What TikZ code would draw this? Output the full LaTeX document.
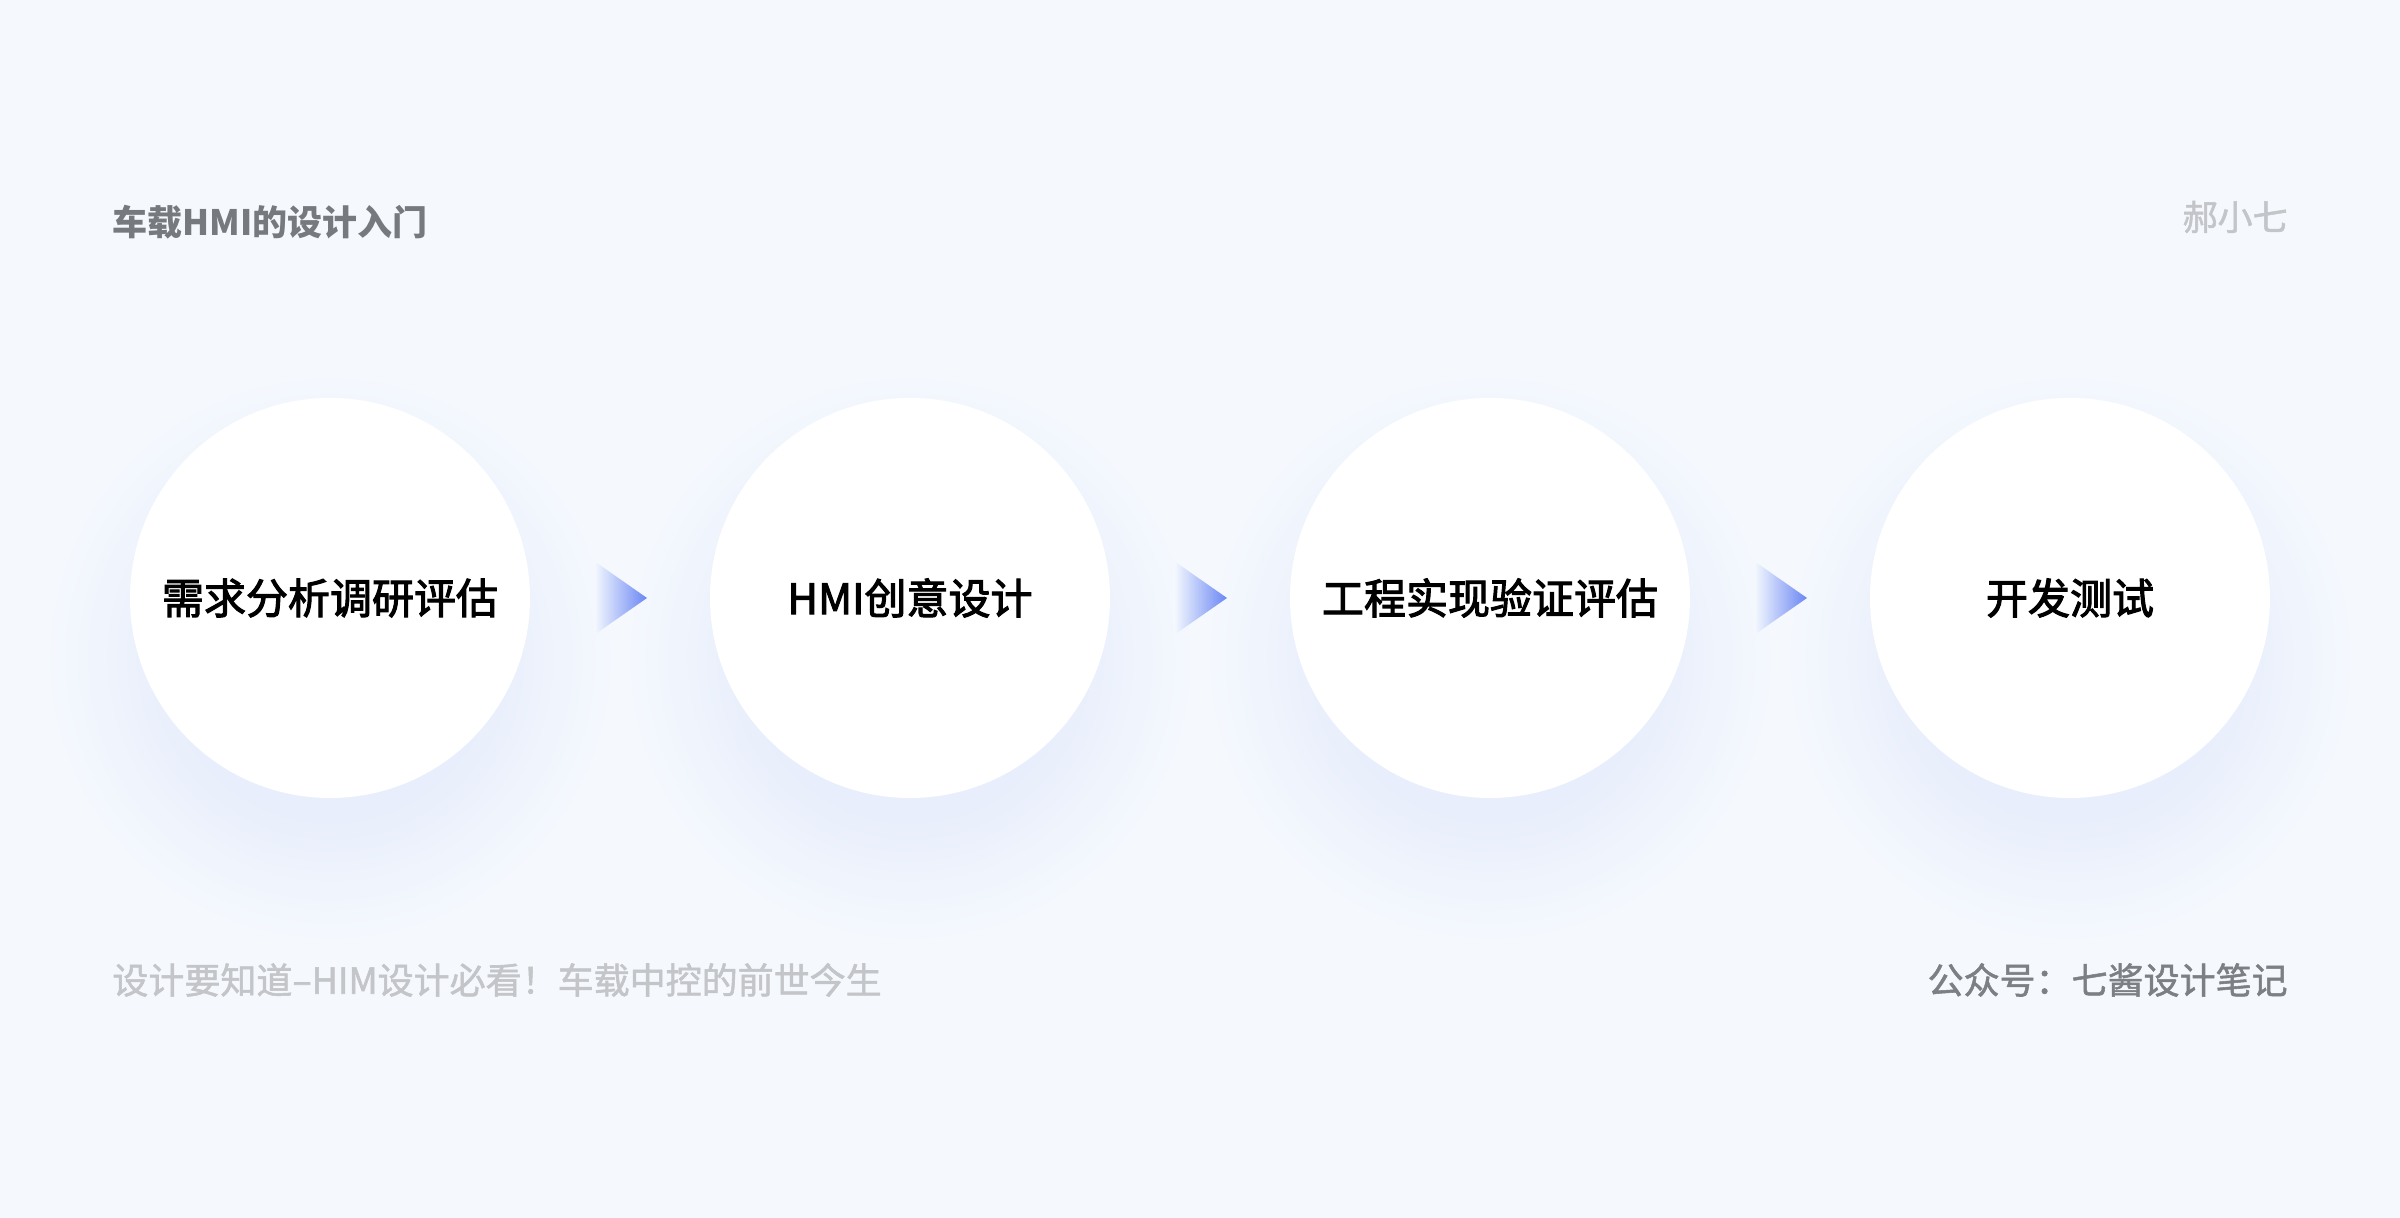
\documentclass[tikz,border=0pt]{standalone}
\usepackage{fontspec}
\setmainfont{Noto Sans CJK SC}
\newfontfamily\mediumcjk[FakeBold=1.5]{Noto Sans CJK SC}
\newfontfamily\stagecjk[FakeBold=2.5]{Noto Sans CJK SC}
\usepackage{tikz}
\usetikzlibrary{positioning,calc,backgrounds}
\definecolor{pagebg}{HTML}{F5F9FE}
\definecolor{haloblue}{HTML}{E8EEFB}
\definecolor{arrowblue}{HTML}{6A86F4}
\definecolor{titlegray}{HTML}{76797D}
\definecolor{notegray}{HTML}{C3C5C8}
\definecolor{sourcegray}{HTML}{7C7F83}
\pgfdeclareradialshading{halo}{\pgfpoint{0bp}{0bp}}{color(0bp)=(haloblue); color(14bp)=(haloblue); color(25bp)=(pagebg); color(50bp)=(pagebg)}
% soft blue halo under a stage circle
\newcommand{\stagehalo}[1]{
  \shade[shading=halo] ($(#1)+(0,-60)$) circle (143pt);
}
% gradient triangle half way between two stages
\newcommand{\stagearrow}[2]{
  \coordinate (#1-#2) at ($(#1.east)!0.5!(#2.west)$);
  \shade[left color=pagebg, right color=arrowblue] ($(#1-#2)+(-26,37)$) -- ($(#1-#2)+(27,0)$) -- ($(#1-#2)+(-26,-37)$) -- cycle;
}

\begin{document}
\begin{tikzpicture}[x=0.5pt,y=0.5pt,
  stage/.style={circle, fill=white, minimum size=200pt, inner sep=0pt, text=black, font=\stagecjk\fontsize{21}{25}\selectfont},
  caption/.style={inner sep=0pt, font=\mediumcjk\fontsize{18}{22}\selectfont}]
\useasboundingbox (0,0) rectangle (2400,1218);

\node[anchor=west, inner sep=0pt, text=titlegray, font=\bfseries\fontsize{17.5}{20}\selectfont] (title) at (112,996) {车载HMI的设计入门};
\node[anchor=east, inner sep=0pt, text=notegray, font=\mediumcjk\fontsize{17.5}{20}\selectfont] (author) at (2288,1001) {郝小七};

\node[stage] (analysis) at (330,620) {需求分析调研评估};
\node[stage] (design) at (910,620) {HMI创意设计};
\node[stage] (engineering) at (1490,620) {工程实现验证评估};
\node[stage] (testing) at (2070,620) {开发测试};

\stagearrow{analysis}{design}
\stagearrow{design}{engineering}
\stagearrow{engineering}{testing}

\node[caption, anchor=west, text=notegray] (series) at (112,238) {设计要知道–HIM设计必看！车载中控的前世今生};
\node[caption, anchor=east, text=sourcegray] (account) at (2288,238) {公众号：七酱设计笔记};

\begin{scope}[on background layer]
\fill[pagebg] (0,0) rectangle (2400,1218);
\stagehalo{analysis}
\stagehalo{design}
\stagehalo{engineering}
\stagehalo{testing}
\end{scope}
\end{tikzpicture}
\end{document}
